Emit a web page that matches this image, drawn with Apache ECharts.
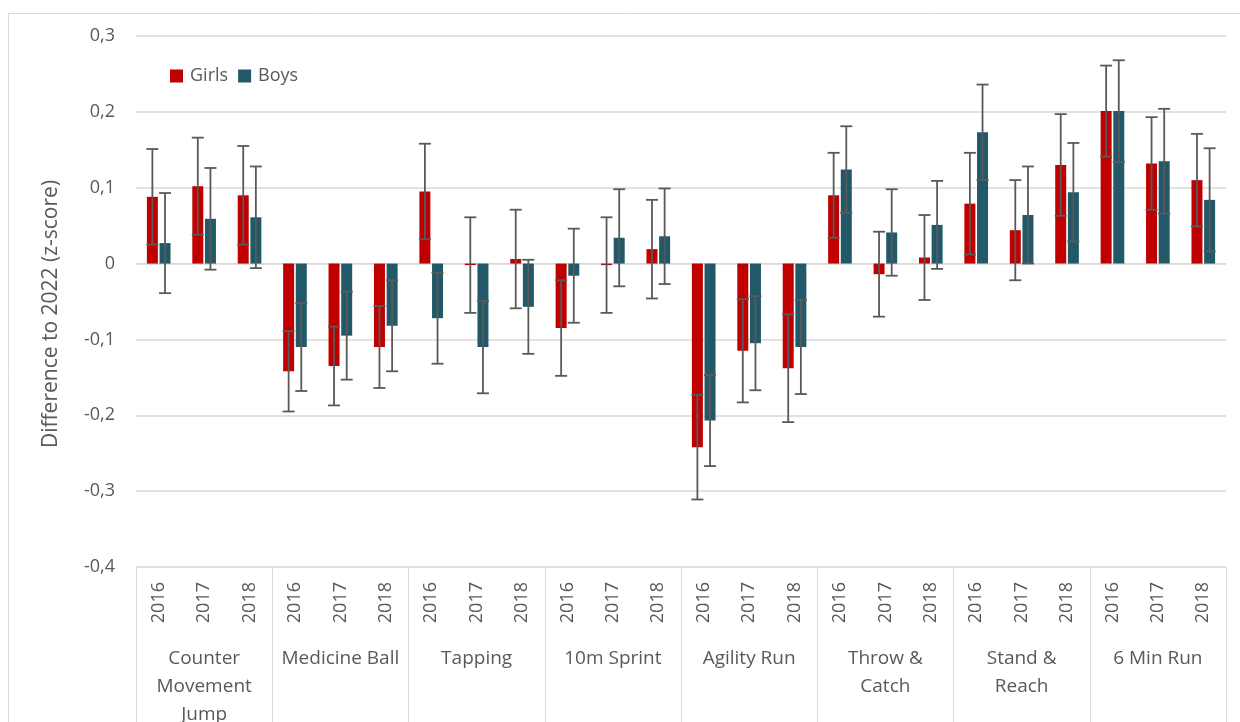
<!DOCTYPE html>
<html>
<head>
<meta charset="utf-8">
<script src="https://cdn.jsdelivr.net/npm/echarts@6/dist/echarts.min.js"></script>
<style>
html,body{margin:0;padding:0;background:#fff;}
#chart{width:1240px;height:722px;}
</style>
</head>
<body>
<div id="chart"></div>
<script>
const tests = ['Counter\nMovement\nJump', 'Medicine Ball', 'Tapping', '10m Sprint', 'Agility Run', 'Throw &\nCatch', 'Stand &\nReach', '6 Min Run'];
const years = ['2016', '2017', '2018'];
const yTicks = [-0.4, -0.3, -0.2, -0.1, 0, 0.1, 0.2, 0.3];

const girls = [0.088, 0.102, 0.090, -0.142, -0.135, -0.110, 0.095, -0.002, 0.006, -0.085, -0.002, 0.019,
               -0.242, -0.115, -0.138, 0.090, -0.014, 0.008, 0.079, 0.044, 0.130, 0.201, 0.132, 0.110];
const girlsErr = [0.063, 0.064, 0.065, 0.053, 0.052, 0.054, 0.063, 0.063, 0.065, 0.063, 0.063, 0.065,
                  0.069, 0.068, 0.071, 0.056, 0.056, 0.056, 0.067, 0.066, 0.067, 0.060, 0.061, 0.061];
const boys = [0.027, 0.059, 0.061, -0.110, -0.095, -0.082, -0.072, -0.110, -0.057, -0.016, 0.034, 0.036,
              -0.207, -0.105, -0.110, 0.124, 0.041, 0.051, 0.173, 0.064, 0.094, 0.201, 0.135, 0.084];
const boysErr = [0.066, 0.067, 0.067, 0.058, 0.058, 0.060, 0.060, 0.061, 0.062, 0.062, 0.064, 0.063,
                 0.060, 0.062, 0.062, 0.057, 0.057, 0.058, 0.063, 0.064, 0.065, 0.067, 0.069, 0.068];

const cats = [];
tests.forEach((t, ti) => years.forEach(y => cats.push(ti + '|' + y)));

const FONT = "'Open Sans', 'Noto Sans', sans-serif";
const TXT = '#595959';
const GRID = '#D9D9D9';
const BAR_W = 11;
const BAR_GAP = 0.15;
const OFF = BAR_W * (1 + BAR_GAP) / 2;

function errRender(offset) {
  return function (params, api) {
    const i = api.value(0), v = api.value(1), e = api.value(2);
    const p1 = api.coord([i, v + e]);
    const p2 = api.coord([i, v - e]);
    const x = p1[0] + offset;
    const cap = 6;
    const st = { stroke: '#595959', lineWidth: 1.8 };
    return {
      type: 'group',
      children: [
        { type: 'line', shape: { x1: x, y1: p1[1], x2: x, y2: p2[1] }, style: st },
        { type: 'line', shape: { x1: x - cap, y1: p1[1], x2: x + cap, y2: p1[1] }, style: st },
        { type: 'line', shape: { x1: x - cap, y1: p2[1], x2: x + cap, y2: p2[1] }, style: st }
      ]
    };
  };
}

const chart = echarts.init(document.getElementById('chart'), null, { renderer: 'canvas' });
chart.setOption({
  animation: false,
  backgroundColor: '#fff',
  textStyle: { fontFamily: FONT },
  graphic: [{
    type: 'rect', shape: { x: 8.5, y: 13.5, width: 1240, height: 720 },
    style: { fill: 'none', stroke: GRID, lineWidth: 1 }, silent: true, z: -10
  }],
  legend: {
    data: ['Girls', 'Boys'], left: 165, top: 62, icon: 'rect', itemWidth: 13, itemHeight: 13, itemGap: 10,
    textStyle: { color: TXT, fontSize: 18, fontFamily: FONT, padding: [0, 0, 0, 2] }
  },
  grid: { left: 136, right: 14, top: 36, bottom: 155, containLabel: false, outerBoundsMode: 'none' },
  xAxis: [{
    type: 'category', data: cats, position: 'bottom',
    axisLine: { show: true, lineStyle: { color: GRID, width: 1 } },
    axisTick: { show: false },
    axisLabel: { interval: 0, rotate: 90, margin: 15, color: TXT, fontSize: 18, fontFamily: FONT,
                 formatter: v => v.split('|')[1] }
  }, {
    type: 'category', data: tests, position: 'bottom',
    axisLine: { show: false },
    axisTick: { show: true, interval: 0, length: 160, lineStyle: { color: GRID, width: 1 } },
    axisLabel: { interval: 0, margin: 78, color: TXT, fontSize: 19, lineHeight: 28, fontFamily: FONT }
  }],
  yAxis: {
    type: 'value', min: yTicks[0], max: yTicks[yTicks.length - 1], interval: 0.1,
    name: 'Difference to 2022 (z-score)', nameLocation: 'middle', nameRotate: 90, nameGap: 74,
    nameTextStyle: { color: TXT, fontSize: 21, fontFamily: FONT, padding: [0, 25, 0, 0] },
    axisLine: { show: false }, axisTick: { show: false },
    axisLabel: { margin: 21, color: TXT, fontSize: 18, fontFamily: FONT,
                 formatter: v => Math.abs(v) < 1e-9 ? '0' : v.toFixed(1).replace('.', ',') },
    splitLine: { show: true, lineStyle: { color: GRID, width: 1.5 } }
  },
  series: [
    { name: 'Girls', type: 'bar', xAxisIndex: 0, data: girls, barWidth: BAR_W, barGap: (BAR_GAP * 100) + '%',
      itemStyle: { color: '#C00000' } },
    { name: 'Boys', type: 'bar', xAxisIndex: 0, data: boys, barWidth: BAR_W, barGap: (BAR_GAP * 100) + '%',
      itemStyle: { color: '#215968' } },
    { name: 'Girls CI', type: 'custom', xAxisIndex: 0, renderItem: errRender(-OFF),
      data: girls.map((v, i) => [i, v, girlsErr[i]]), z: 5 },
    { name: 'Boys CI', type: 'custom', xAxisIndex: 0, renderItem: errRender(OFF),
      data: boys.map((v, i) => [i, v, boysErr[i]]), z: 5 }
  ]
});
</script>
</body>
</html>
